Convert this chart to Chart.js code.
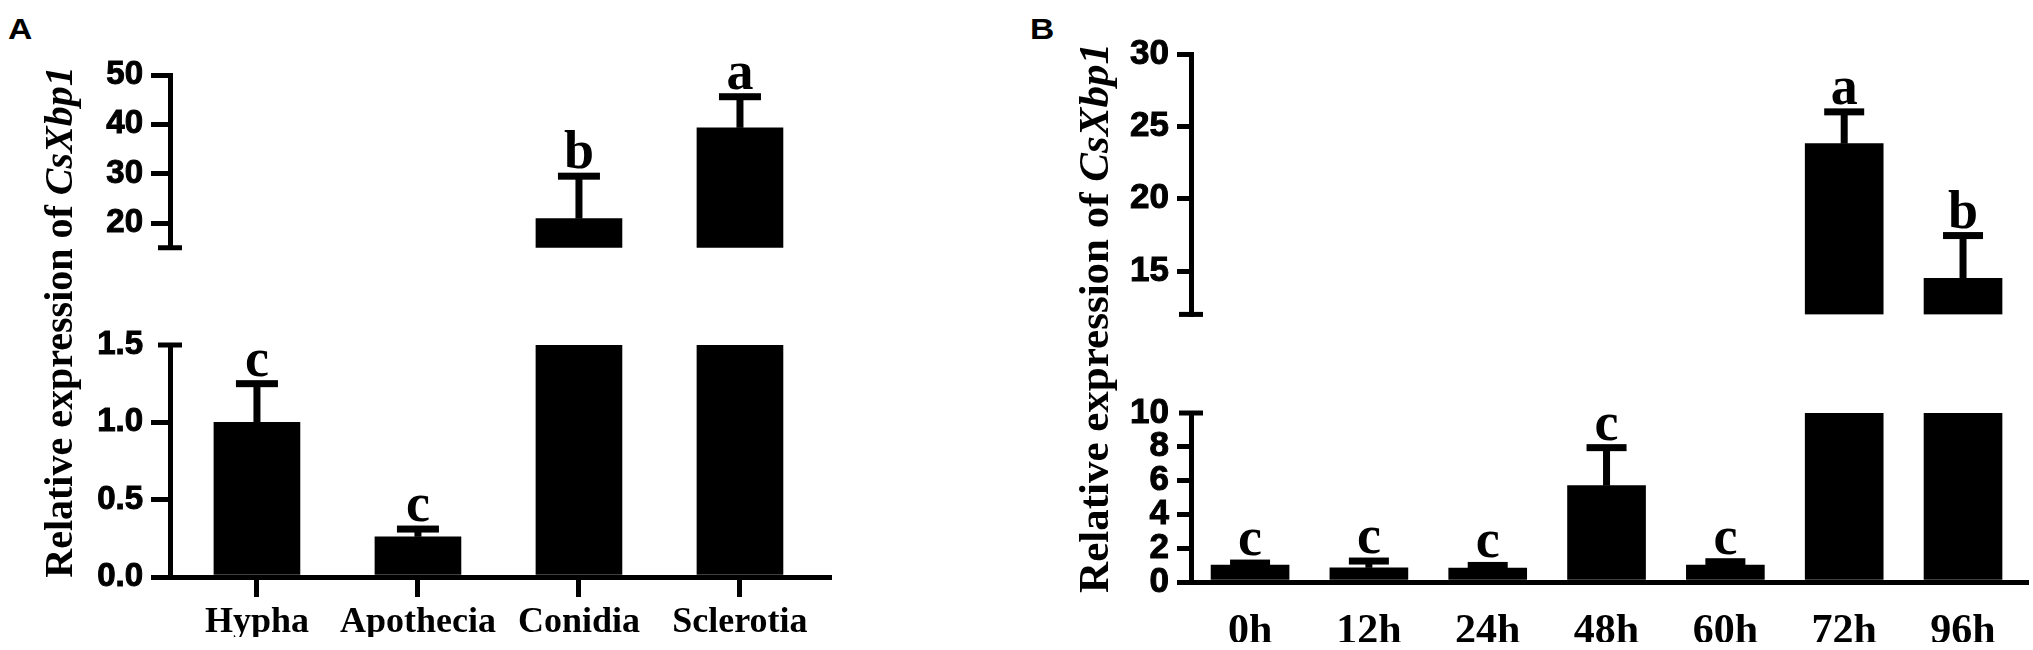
<!DOCTYPE html>
<html>
<head>
<meta charset="utf-8">
<script src="https://cdn.jsdelivr.net/npm/chart.js@4.4.0/dist/chart.umd.min.js"></script>
<style>
  html, body { margin: 0; padding: 0; background: #fff; }
  #fig { position: relative; width: 2033px; height: 650px; overflow: hidden; }
  .box { position: absolute; top: 0; height: 650px; }
  .tag { position: absolute; font: bold 30px "Liberation Sans", Arial, sans-serif; line-height: 1;
         transform: scaleX(1.12); transform-origin: left top; }
</style>
</head>
<body>
<div id="fig">
  <div class="tag" style="left:8px;top:14px">A</div>
  <div class="tag" style="left:1030px;top:14px">B</div>
  <div class="box" style="left:0;width:840px"><canvas id="aUp"></canvas></div>
  <div class="box" style="left:0;width:840px"><canvas id="aLow"></canvas></div>
  <div class="box" style="left:900px;width:1133px"><canvas id="bUp"></canvas></div>
  <div class="box" style="left:900px;width:1133px"><canvas id="bLow"></canvas></div>
</div>
<script>
// panel A: tissues
const groupsA = ['Hypha', 'Apothecia', 'Conidia', 'Sclerotia'];
const valuesA = [1.0, 0.26, 20.9, 39.3];
const errorsA = [0.25, 0.05, 8.6, 6.3];
const lettersA = ['c', 'c', 'b', 'a'];
const ticksAUpper = [20, 30, 40, 50];
const ticksALower = [0, 0.5, 1.0, 1.5];

// panel B: time course
const groupsB = ['0h', '12h', '24h', '48h', '60h', '72h', '96h'];
const valuesB = [1.0, 0.84, 0.82, 5.7, 1.0, 23.8, 14.5];
const errorsB = [0.12, 0.4, 0.16, 2.25, 0.2, 2.2, 2.95];
const lettersB = ['c', 'c', 'c', 'c', 'c', 'a', 'b'];
const ticksBUpper = [15, 20, 25, 30];
const ticksBLower = [0, 2, 4, 6, 8, 10];

const serif = '"Liberation Serif", "Times New Roman", serif';
const sans = '"Liberation Sans", Arial, sans-serif';

const panelA = {
  groups: groupsA, values: valuesA, errors: errorsA, letters: lettersA,
  upper: { min: 15, max: 50, ticks: ticksAUpper, top: 75, bottom: 307.75, dec: 0 },
  lower: { min: 0, max: 1.5, ticks: ticksALower, top: 345, bottom: 577, dec: 1 },
  width: 840, axisW: 170, padRight: 11, xMin: -0.54, xMax: 3.553,
  bar: 86, cap: 42, tickLen: 19, xTicks: true, xFont: 36, xPad: 8, yFont: 33,
  title: { x: 72, y: 322, size: 40 }
};
const panelB = {
  groups: groupsB, values: valuesB, errors: errorsB, letters: lettersB,
  upper: { min: 12, max: 30, ticks: ticksBUpper, top: 54, bottom: 374.4, dec: 0 },
  lower: { min: 0, max: 10, ticks: ticksBLower, top: 413, bottom: 582, dec: 0 },
  width: 1133, axisW: 291, padRight: 7, xMin: -0.497, xMax: 6.53,
  bar: 78, cap: 40, tickLen: 14, xTicks: false, xFont: 42, xPad: 9, yFont: 35,
  title: { x: 208, y: 318, size: 43 }
};

function marks(p, seg, isUpper) {
  return {
    id: 'marks',
    afterDatasetsDraw(chart) {
      const { ctx, scales: { x, y }, chartArea } = chart;
      ctx.save();
      ctx.fillStyle = '#000';
      p.values.forEach((v, i) => {
        const inUpper = v > p.lower.max;
        if (inUpper !== isUpper) return;
        const cx = x.getPixelForValue(i);
        const base = y.getPixelForValue(v);
        const top = y.getPixelForValue(v + p.errors[i]);
        ctx.fillRect(cx - 3.5, top, 7, base - top);
        ctx.fillRect(cx - p.cap / 2, top - 3.5, p.cap, 7);
        ctx.font = 'bold 54px ' + serif;
        ctx.textAlign = 'center';
        ctx.textBaseline = 'alphabetic';
        ctx.fillText(p.letters[i], cx, top - 8);
      });
      // axis break caps
      const ax = chartArea.left;
      const yb = isUpper ? y.getPixelForValue(seg.min) : y.getPixelForValue(seg.max);
      ctx.fillRect(ax - 12, yb - 2.5, 24, 5);
      if (!isUpper) {
        // y title with italic gene name
        const t1 = 'Relative expression of ';
        const t2 = 'CsXbp1';
        const f1 = 'bold ' + p.title.size + 'px ' + serif;
        const f2 = 'italic bold ' + p.title.size + 'px ' + serif;
        ctx.translate(p.title.x, p.title.y);
        ctx.rotate(-Math.PI / 2);
        ctx.textBaseline = 'alphabetic';
        ctx.textAlign = 'left';
        ctx.font = f1;
        const w1 = ctx.measureText(t1).width;
        ctx.font = f2;
        const w2 = ctx.measureText(t2).width;
        const start = -(w1 + w2) / 2;
        ctx.font = f1;
        ctx.fillText(t1, start, 0);
        ctx.font = f2;
        ctx.fillText(t2, start + w1, 0);
      }
      ctx.restore();
    }
  };
}

function segment(canvasId, p, isUpper) {
  const seg = isUpper ? p.upper : p.lower;
  const data = p.values.map((v, i) => {
    if (isUpper) return { x: i, y: v > seg.min ? [seg.min, v] : null };
    return { x: i, y: Math.min(v, seg.max) };
  });
  const xHeight = 60;
  new Chart(document.getElementById(canvasId), {
    type: 'bar',
    data: {
      datasets: [{
        data: data,
        backgroundColor: '#000',
        borderWidth: 0,
        barThickness: p.bar
      }]
    },
    options: {
      responsive: true,
      maintainAspectRatio: false,
      animation: false,
      events: [],
      layout: {
        padding: {
          left: 0,
          right: p.padRight,
          top: seg.top,
          bottom: isUpper ? 650 - seg.bottom : 650 - seg.bottom - xHeight
        }
      },
      plugins: { legend: { display: false }, tooltip: { enabled: false } },
      scales: {
        x: {
          type: 'linear',
          display: !isUpper,
          offset: false,
          min: p.xMin,
          max: p.xMax,
          afterBuildTicks: s => { s.ticks = p.groups.map((g, i) => ({ value: i })); },
          afterFit: s => { s.height = xHeight; },
          ticks: {
            autoSkip: false,
            maxRotation: 0,
            padding: p.xPad,
            color: '#000',
            font: { family: serif, size: p.xFont, weight: 'bold', lineHeight: 1 },
            callback: v => p.groups[v]
          },
          grid: {
            display: p.xTicks,
            offset: false,
            drawOnChartArea: false,
            tickLength: 20,
            lineWidth: 5,
            color: '#000'
          },
          border: { display: true, width: 5, color: '#000' }
        },
        y: {
          type: 'linear',
          min: seg.min,
          max: seg.max,
          afterBuildTicks: s => { s.ticks = seg.ticks.map(v => ({ value: v })); },
          afterFit: s => { s.width = p.axisW; },
          ticks: {
            autoSkip: false,
            padding: 8,
            color: '#000',
            textStrokeColor: '#000',
            textStrokeWidth: 1,
            font: { family: sans, size: p.yFont, weight: 'bold', lineHeight: 1 },
            callback: v => v.toFixed(seg.dec)
          },
          grid: {
            drawOnChartArea: false,
            tickLength: p.tickLen,
            lineWidth: 5,
            color: c => (!isUpper && c.tick && c.tick.value === seg.max) ? 'rgba(0,0,0,0)' : '#000'
          },
          border: { display: true, width: 5, color: '#000' }
        }
      }
    },
    plugins: [marks(p, seg, isUpper)]
  });
}

segment('aUp', panelA, true);
segment('aLow', panelA, false);
segment('bUp', panelB, true);
segment('bLow', panelB, false);
</script>
</body>
</html>
